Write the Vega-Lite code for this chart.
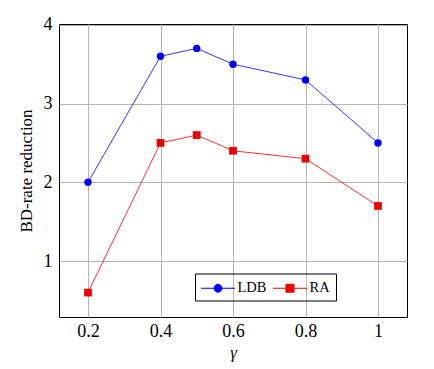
{
  "$schema": "https://vega.github.io/schema/vega-lite/v6.json",
  "width": 348,
  "height": 293,
  "autosize": {"type": "none"},
  "padding": {"left": 59, "top": 24, "right": 27, "bottom": 52},
  "background": "white",
  "config": {
    "view": {"stroke": "black", "strokeWidth": 1},
    "font": "Liberation Serif",
    "axis": {
      "labelFont": "Liberation Serif",
      "titleFont": "Liberation Serif",
      "labelFontSize": 18,
      "titleFontSize": 17,
      "labelColor": "black",
      "titleColor": "black",
      "titleFontWeight": "normal",
      "grid": true,
      "gridColor": "#b5b5b5",
      "gridWidth": 1,
      "domain": false,
      "tickSize": 0
    }
  },
  "data": {
    "values": [
      {"gamma": 0.2, "value": 2.0, "series": "LDB"},
      {"gamma": 0.4, "value": 3.6, "series": "LDB"},
      {"gamma": 0.5, "value": 3.7, "series": "LDB"},
      {"gamma": 0.6, "value": 3.5, "series": "LDB"},
      {"gamma": 0.8, "value": 3.3, "series": "LDB"},
      {"gamma": 1.0, "value": 2.5, "series": "LDB"},
      {"gamma": 0.2, "value": 0.6, "series": "RA"},
      {"gamma": 0.4, "value": 2.5, "series": "RA"},
      {"gamma": 0.5, "value": 2.6, "series": "RA"},
      {"gamma": 0.6, "value": 2.4, "series": "RA"},
      {"gamma": 0.8, "value": 2.3, "series": "RA"},
      {"gamma": 1.0, "value": 1.7, "series": "RA"}
    ]
  },
  "encoding": {
    "x": {
      "field": "gamma",
      "type": "quantitative",
      "scale": {"domain": [0.12, 1.08], "nice": false, "zero": false},
      "axis": {
        "title": "γ",
        "titleFont": "Liberation Serif",
        "titleFontStyle": "italic",
        "labelFont": "Liberation Serif",
        "values": [0.2, 0.4, 0.6, 0.8, 1],
        "format": "~g",
        "labelPadding": 5,
        "titlePadding": 4,
        "labelFlush": false
      }
    },
    "y": {
      "field": "value",
      "type": "quantitative",
      "scale": {"domain": [0.29, 4.01], "nice": false, "zero": false},
      "axis": {
        "title": "BD-rate reduction",
        "titleFont": "Liberation Serif",
        "labelFont": "Liberation Serif",
        "values": [1, 2, 3, 4],
        "labelPadding": 7,
        "titlePadding": 8,
        "labelFlush": false
      }
    },
    "color": {
      "field": "series",
      "type": "nominal",
      "scale": {"domain": ["LDB", "RA"], "range": ["#0000ff", "#ee0000"]},
      "legend": {
        "title": null,
        "orient": "none",
        "legendX": 136,
        "legendY": 249.5,
        "direction": "horizontal",
        "strokeColor": "black",
        "padding": 5.5,
        "symbolSize": 289,
        "labelOffset": 19,
        "columnPadding": 4,
        "labelFont": "Liberation Serif",
        "labelFontSize": 14.5,
        "labelColor": "black",
        "encode": {
          "symbols": {
            "update": {
              "shape": {"signal": "datum.value === 'LDB' ? 'M-1,0H3M1.47,0A0.47,0.47,0,1,1,0.53,0A0.47,0.47,0,1,1,1.47,0Z' : 'M-1,0H3M0.53,-0.47H1.47V0.47H0.53Z'"},
              "stroke": {"signal": "datum.value === 'LDB' ? '#0000ff' : '#ee0000'"},
              "fill": {"signal": "datum.value === 'LDB' ? '#0000ff' : '#ee0000'"},
              "strokeWidth": {"value": 1},
              "opacity": {"value": 1}
            }
          }
        }
      }
    }
  },
  "layer": [
    {
      "mark": {"type": "line", "strokeWidth": 0.8}
    },
    {
      "transform": [{"filter": "datum.series === 'LDB'"}],
      "mark": {"type": "point", "shape": "circle", "filled": true, "opacity": 1, "size": 55}
    },
    {
      "transform": [{"filter": "datum.series === 'RA'"}],
      "mark": {"type": "point", "shape": "square", "filled": true, "opacity": 1, "size": 60}
    }
  ]
}
